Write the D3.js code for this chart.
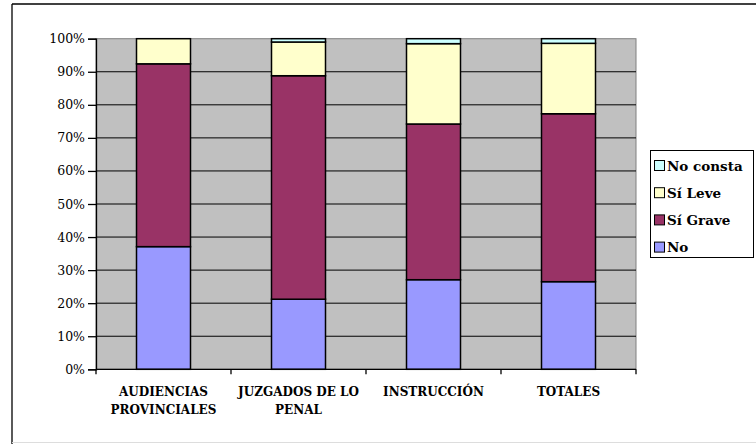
<!DOCTYPE html>
<html><head><meta charset="utf-8">
<script src="https://cdn.jsdelivr.net/npm/d3@7"></script>
<style>body{margin:0;background:#fff}svg{display:block}
svg text{font-family:"DejaVu Serif",serif;}</style>
</head><body>
<svg id="c" width="756" height="444"></svg>
<script>
const categories = [["AUDIENCIAS","PROVINCIALES"],["JUZGADOS DE LO","PENAL"],["INSTRUCCIÓN"],["TOTALES"]];
const seriesNames = ["No","Sí Grave","Sí Leve","No consta"];
const seriesColors = ["#9999FF","#993366","#FFFFCC","#CCFFFF"];
const valNo = [37.1, 21.2, 27.1, 26.5];
const valGrave = [55.3, 67.6, 47.1, 50.8];
const valLeve = [7.6, 10.2, 24.3, 21.3];
const valNoConsta = [0, 1.0, 1.5, 1.4];
const yTicks = [0,10,20,30,40,50,60,70,80,90,100];

const svg = d3.select("#c");
const m = {l:96, r:636, t:38.7, b:369.3};
const keys = categories.map((c,i)=>i);
const x = d3.scaleBand().domain(keys).range([m.l,m.r]).paddingInner(0.6).paddingOuter(0.3);
const xb = d3.scaleBand().domain(keys).range([m.l,m.r]);
const y = d3.scaleLinear().domain([0,100]).range([m.b,m.t]);

svg.append("line").attr("x1",12).attr("x2",12).attr("y1",4).attr("y2",444).attr("stroke","#000").attr("stroke-width",1.3);
svg.append("line").attr("x1",12).attr("x2",756).attr("y1",4).attr("y2",4).attr("stroke","#000").attr("stroke-width",1.3);
svg.append("line").attr("x1",12).attr("x2",756).attr("y1",442.5).attr("y2",442.5).attr("stroke","#ddd").attr("stroke-width",1);

svg.append("rect").attr("x",m.l).attr("y",m.t).attr("width",m.r-m.l).attr("height",m.b-m.t).attr("fill","#C0C0C0").attr("stroke","#808080").attr("stroke-width",1);

svg.append("g").selectAll("line").data(yTicks.filter(d=>d>0&&d<100)).join("line")
  .attr("x1",m.l).attr("x2",m.r).attr("y1",d=>y(d)).attr("y2",d=>y(d)).attr("stroke","#000").attr("stroke-width",1);

const rows = keys.map(i=>({i, No:valNo[i], "Sí Grave":valGrave[i], "Sí Leve":valLeve[i], "No consta":valNoConsta[i]}));
const stack = d3.stack().keys(seriesNames)(rows);
stack.forEach((s,si)=>{
  svg.append("g").selectAll("rect").data(s.filter(d=>d[1]-d[0]>0)).join("rect")
    .attr("x",d=>x(d.data.i)).attr("width",x.bandwidth())
    .attr("y",d=>y(d[1])).attr("height",d=>y(d[0])-y(d[1]))
    .attr("fill",seriesColors[si]).attr("stroke","#000").attr("stroke-width",1.5);
});

const ya = d3.axisLeft(y).tickValues(yTicks).tickFormat(d=>d+"%").tickSize(8).tickPadding(3);
const gy = svg.append("g").attr("transform",`translate(${m.l},0)`).call(ya);
gy.attr("font-family",null);
gy.select(".domain").attr("stroke","#000").attr("stroke-width",1.3);
gy.selectAll(".tick line").attr("stroke-width",1.3);
gy.selectAll("text").attr("font-size",12.5).attr("fill","#000");

const gx = svg.append("g").attr("transform",`translate(0,${m.b})`);
gx.append("line").attr("x1",m.l).attr("x2",m.r).attr("stroke","#000").attr("stroke-width",1.3);
gx.selectAll("line.t").data(keys.concat([4])).join("line").attr("class","t")
  .attr("x1",d=>m.l+d*xb.bandwidth()).attr("x2",d=>m.l+d*xb.bandwidth()).attr("y1",0).attr("y2",5).attr("stroke","#000").attr("stroke-width",1.3);
const lbl = gx.selectAll("text").data(keys).join("text")
  .attr("x",d=>xb(d)+xb.bandwidth()/2).attr("y",27)
  .attr("text-anchor","middle").attr("font-weight","bold").attr("font-size",12);
lbl.each(function(d){
  const t=d3.select(this);
  categories[d].forEach((s,k)=>t.append("tspan").attr("x",xb(d)+xb.bandwidth()/2).attr("dy",k?18:0).text(s));
});

const lg = svg.append("g");
lg.append("rect").attr("x",650.5).attr("y",150.5).attr("width",103).attr("height",107).attr("fill","#fff").attr("stroke","#000");
const order = [3,2,1,0];
order.forEach((si,k)=>{
  const cy = 165.5 + k*27.2;
  lg.append("rect").attr("x",654.5).attr("y",cy-5).attr("width",10).attr("height",10).attr("fill",seriesColors[si]).attr("stroke","#000");
  lg.append("text").attr("x",667).attr("y",cy+5).attr("font-weight","bold").attr("font-size",13.5).text(seriesNames[si]);
});
</script>
</body></html>
